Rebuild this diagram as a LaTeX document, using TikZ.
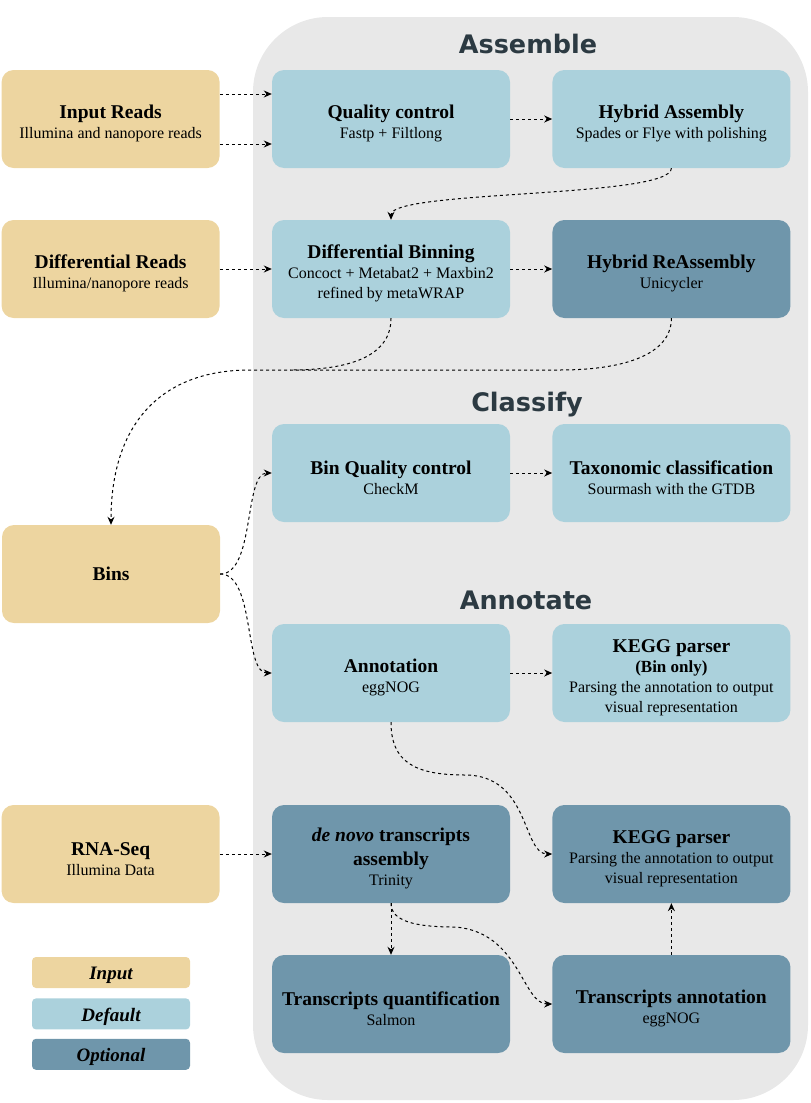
\documentclass[tikz,border=0pt]{standalone}
\usepackage{fontspec}
\setmainfont{Liberation Serif}
\newfontfamily\headfont{DejaVu Sans}
\usetikzlibrary{arrows.meta, backgrounds, positioning}

\definecolor{inputcol}{RGB}{237,213,160}
\definecolor{defcol}{RGB}{171,209,220}
\definecolor{optcol}{RGB}{111,150,171}
\definecolor{panelcol}{RGB}{232,232,232}
\definecolor{headcol}{RGB}{44,58,66}

\newcommand{\boxtitle}[1]{{\fontsize{19.5}{20}\selectfont\bfseries #1}}
\newcommand{\boxhead}[1]{\boxtitle{\rule{0pt}{23pt}#1}}

\begin{document}
\begin{tikzpicture}[
    x=1pt, y=-1pt,
    box/.style={rectangle, draw=none, minimum width=238pt, minimum height=98pt, align=center, rounded corners=12pt, inner sep=2pt, node font=\fontsize{16}{20}\selectfont},
    inbox/.style={box, fill=inputcol, minimum width=218pt},
    defbox/.style={box, fill=defcol},
    optbox/.style={box, fill=optcol},
    legend/.style={rectangle, minimum width=158pt, minimum height=31pt, rounded corners=4pt, inner sep=0pt, font=\fontsize{19}{20}\selectfont\bfseries\itshape},
    heading/.style={anchor=base, text=headcol, font=\headfont\bfseries\fontsize{25.5}{28}\selectfont},
    flow/.style={line width=1pt, dash pattern=on 3pt off 3pt, -{Stealth[length=8pt, width=7pt]}},
    link/.style={line width=1pt, dash pattern=on 3pt off 3pt}
]
\useasboundingbox (0,0) rectangle (811,1103);
% Background panel
\begin{scope}[on background layer]
\fill[panelcol, rounded corners=75pt] (253,17) rectangle (808,1100);
\end{scope}
% Headings
\node[heading] (hassemble) at (528,53) {Assemble};
\node[heading] (hclassify) at (527,411) {Classify};
\node[heading] (hannotate) at (526,609) {Annotate};
% Pipeline nodes
\node[defbox] (qc) at (391,119) {\boxhead{Quality control}\\Fastp + Filtlong};
\node[defbox, right=42pt of qc] (hyb) {\boxhead{Hybrid Assembly}\\Spades or Flye with polishing};
\node[defbox] (db) at (391,269) {\boxhead{Differential Binning}\\Concoct + Metabat2 + Maxbin2\\refined by metaWRAP};
\node[optbox, right=42pt of db] (hra) {\boxhead{Hybrid ReAssembly}\\Unicycler};
\node[defbox] (bqc) at (391,473) {\boxhead{Bin Quality control}\\CheckM};
\node[defbox, right=42pt of bqc] (tax) {\boxhead{Taxonomic classification}\\Sourmash with the GTDB};
\node[defbox] (annot) at (391,673) {\boxhead{Annotation}\\eggNOG};
\node[defbox, right=42pt of annot] (keggbin) {\boxhead{KEGG parser}\\{\fontsize{17}{20}\selectfont\bfseries (Bin only)}\\Parsing the annotation to output\\visual representation};
\node[optbox] (denovo) at (391,854) {\boxhead{\textit{de novo} transcripts}\\[4pt]\boxtitle{assembly}\\Trinity};
\node[optbox, right=42pt of denovo] (kegg) {\boxhead{KEGG parser}\\Parsing the annotation to output\\visual representation};
\node[optbox] (tquant) at (391,1004) {\boxhead{Transcripts quantification}\\Salmon};
\node[optbox, right=42pt of tquant] (tannot) {\boxhead{Transcripts annotation}\\eggNOG};
% Inputs
\node[inbox, left=52pt of qc] (reads) {\boxhead{Input Reads}\\Illumina and nanopore reads};
\node[inbox, left=52pt of db] (diffreads) {\boxhead{Differential Reads}\\Illumina/nanopore reads};
\node[inbox] (bins) at (111,574) {\boxtitle{Bins}};
\node[inbox, left=52pt of denovo] (rnaseq) {\boxhead{RNA-Seq}\\Illumina Data};
% Legend
\node[legend, fill=inputcol] (legin) at (111,972.5) {\rule{0pt}{19pt}Input};
\node[legend, fill=defcol, below=10pt of legin] (legdef) {\rule{0pt}{19pt}Default};
\node[legend, fill=optcol, below=9pt of legdef] (legopt) {\rule{0pt}{19pt}Optional};
% Arrows
\coordinate (merge) at (250,370);
\coordinate (joinhra) at (560,370);
\coordinate (joindb) at (290,370);
\draw[flow] ([yshift=25pt]reads.east) -- ([yshift=25pt]qc.west);
\draw[flow] ([yshift=-25pt]reads.east) -- ([yshift=-25pt]qc.west);
\draw[flow] (qc) -- (hyb);
\draw[flow] (hyb.south) .. controls +(0,30) and +(0,-30) .. (db.north);
\draw[flow] (diffreads) -- (db);
\draw[flow] (db) -- (hra);
\draw[flow] (hra.south) .. controls +(0,38) and +(60,0) .. (joinhra) -- (merge) .. controls +(-90,0) and +(0,-100) .. (bins.north);
\draw[link] (db.south) .. controls +(0,38) and +(60,0) .. (joindb);
\draw[flow] (bins.east) .. controls +(35,0) and +(-28,0) .. (bqc.west);
\draw[flow] (bins.east) .. controls +(35,0) and +(-28,0) .. (annot.west);
\draw[flow] (bqc) -- (tax);
\draw[flow] (annot) -- (keggbin);
\draw[flow] (annot.south) .. controls +(0,40) and +(-50,0) .. (465,775) .. controls +(65,0) and +(-30,0) .. (kegg.west);
\draw[flow] (rnaseq) -- (denovo);
\draw[flow] (denovo) -- (tquant);
\draw[flow] (denovo.south) .. controls +(0,18) and +(-40,0) .. (455,927) .. controls +(65,5) and +(-30,0) .. (tannot.west);
\draw[flow] (tannot) -- (kegg);
\end{tikzpicture}
\end{document}
